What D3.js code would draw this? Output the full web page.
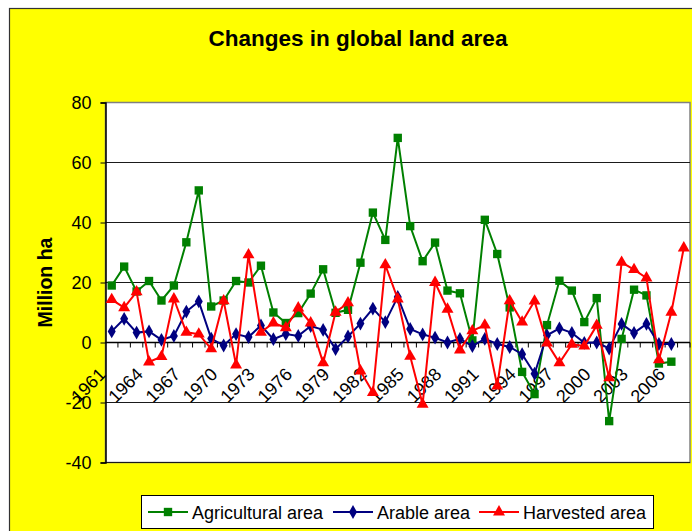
<!DOCTYPE html>
<html>
<head>
<meta charset="utf-8">
<script src="https://cdn.jsdelivr.net/npm/d3@7"></script>
<style>
  html, body { margin: 0; padding: 0; background: #fff; }
  svg { display: block; }
  text { font-family: "Liberation Sans", Arial, sans-serif; }
</style>
</head>
<body>
<svg id="chart" width="692" height="531"></svg>
<script>
// ---- Data ----
const years = d3.range(1961, 2008);           // 1961 .. 2007
const labelYears = years.filter((d, i) => i % 3 === 0);
const yTicks = [-40, -20, 0, 20, 40, 60, 80];

const agricultural = [19, 25.3, 17, 20.5, 14, 19, 33.4, 50.7, 12, 14, 20.5, 20, 25.6, 10, 6.5, 9.8,
  16.3, 24.4, 9.9, 10.9, 26.6, 43.3, 34.2, 68.2, 38.8, 27.1, 33.3, 17.3, 16.4, 0.7, 40.9, 29.5,
  11.7, -9.8, -17.2, 5.8, 20.6, 17.3, 6.8, 14.8, -26.2, 1.2, 17.6, 15.7, -7, -6.4, null];
const arable = [3.7, 7.9, 3.3, 3.7, 0.9, 2.2, 10.3, 13.7, 1.3, -1.0, 2.8, 1.8, 5.7, 1.1, 2.8, 2.2,
  5.5, 4.2, -2.2, 2.0, 6.3, 11.3, 6.8, 15.2, 4.5, 2.7, 1.6, 0, 1.2, -1.2, 1.2, -0.5,
  -1.5, -3.9, -10.4, 2.4, 4.7, 3.2, -0.1, 0, -2.0, 6.2, 3.2, 6.2, -0.5, -0.5, null];
const harvested = [14.3, 11.6, 16.9, -6.5, -4.7, 14.5, 3.4, 2.8, -2.1, 13.9, -7.5, 29.2, 3.4, 6.5, 4.9, 11.5,
  6.5, -6.8, 10.1, 13.2, -9.5, -16.7, 25.9, 14.5, -4.6, -20.6, 20.0, 11.1, -2.5, 3.9, 5.8, -14.5,
  13.9, 6.8, 13.8, -0.2, -6.8, -0.6, -1.2, 5.7, -11.8, 26.7, 24.3, 21.5, -5.8, 10.1, 31.5];

const seriesNames = ["Agricultural area", "Arable area", "Harvested area"];
const seriesColors = ["#008000", "#000080", "#FF0000"];
const seriesMarkers = ["square", "diamond", "triangle"];
const seriesData = [agricultural, arable, harvested];

// ---- Layout ----
const svg = d3.select("#chart");
const plot = { left: 105.5, right: 690, top: 102.5, bottom: 462.5 };

// chart area (yellow)
svg.append("rect").attr("x", 9.5).attr("y", 8.5).attr("width", 720).attr("height", 560)
  .attr("fill", "#FFFF00").attr("stroke", "#333").attr("stroke-width", 1.2);

// title
svg.append("text").attr("x", 358).attr("y", 46).attr("text-anchor", "middle")
  .attr("font-size", 22.5).attr("font-weight", "bold").text("Changes in global land area");

const x = d3.scaleBand().domain(years).range([plot.left, plot.right]).paddingInner(0).paddingOuter(0);
const y = d3.scaleLinear().domain([-40, 80]).range([plot.bottom, plot.top]);
const cx = d => x(d) + x.bandwidth() / 2;

// plot area
svg.append("rect").attr("x", plot.left).attr("y", plot.top)
  .attr("width", plot.right - plot.left).attr("height", plot.bottom - plot.top)
  .attr("fill", "#fff").attr("stroke", "#808080").attr("stroke-width", 1.5);

// gridlines
svg.append("g").selectAll("line").data(yTicks.filter(v => v !== 80)).join("line")
  .attr("x1", plot.left).attr("x2", plot.right)
  .attr("y1", d => y(d)).attr("y2", d => y(d))
  .attr("stroke", "#1a1a1a").attr("stroke-width", 1);

// y axis
const yAxis = svg.append("g").attr("transform", `translate(${plot.left},0)`)
  .call(d3.axisLeft(y).tickValues(yTicks).tickSize(5).tickPadding(9).tickFormat(d => String(d)));
yAxis.select(".domain").attr("stroke", "#000").attr("stroke-width", 1.5);
yAxis.selectAll(".tick line").attr("stroke", "#000");
yAxis.selectAll("text").attr("font-size", 18).attr("font-family", "Liberation Sans, Arial, sans-serif")
  .attr("fill", "#000");

// y axis title
svg.append("text").attr("transform", `translate(52,${(plot.top + plot.bottom) / 2}) rotate(-90)`)
  .attr("text-anchor", "middle").attr("font-size", 19.5).attr("font-weight", "bold").text("Million ha");

// x axis at zero
const xAxisG = svg.append("g").attr("transform", `translate(0,${y(0)})`);
xAxisG.append("line").attr("x1", plot.left).attr("x2", plot.right).attr("y1", 0).attr("y2", 0)
  .attr("stroke", "#000").attr("stroke-width", 1.3);
xAxisG.selectAll("line.tk").data(years.slice(1).concat(["end"])).join("line").attr("class", "tk")
  .attr("x1", d => d === "end" ? plot.right : x(d)).attr("x2", d => d === "end" ? plot.right : x(d))
  .attr("y1", 0).attr("y2", 5).attr("stroke", "#000").attr("stroke-width", 1);
const xAxis = xAxisG.append("g")
  .call(d3.axisBottom(x).tickValues(labelYears).tickSize(0).tickPadding(0));
xAxis.select(".domain").remove();
xAxis.selectAll("text")
  .attr("font-size", 18).attr("font-family", "Liberation Sans, Arial, sans-serif").attr("fill", "#000")
  .attr("y", 0).attr("dy", 0).attr("text-anchor", "end")
  .attr("transform", "translate(-5,33) rotate(-45)");

// series
const sym = {
  square: d3.symbol().type(d3.symbolSquare).size(70),
  diamond: d3.symbol().type(d3.symbolDiamond).size(55),
  triangle: d3.symbol().type(d3.symbolTriangle).size(62)
};
seriesData.forEach((vals, si) => {
  const pts = years.map((yr, i) => ({ yr, v: vals[i] })).filter(p => p.v !== null && p.v !== undefined);
  const line = d3.line().x(p => cx(p.yr)).y(p => y(p.v));
  svg.append("path").datum(pts).attr("d", line).attr("fill", "none")
    .attr("stroke", seriesColors[si]).attr("stroke-width", 2);
  svg.append("g").selectAll("path").data(pts).join("path")
    .attr("d", sym[seriesMarkers[si]])
    .attr("transform", p => `translate(${cx(p.yr)},${y(p.v)})`)
    .attr("fill", seriesColors[si]);
});

// legend
const lg = svg.append("g");
lg.append("rect").attr("x", 141.5).attr("y", 495.5).attr("width", 512).attr("height", 33)
  .attr("fill", "#fff").attr("stroke", "#000").attr("stroke-width", 1);
const legendX = [148, 333, 479];
const legendTextX = [192, 377, 523];
seriesNames.forEach((name, si) => {
  const ly = 512;
  lg.append("line").attr("x1", legendX[si]).attr("x2", legendX[si] + 40).attr("y1", ly).attr("y2", ly)
    .attr("stroke", seriesColors[si]).attr("stroke-width", 2);
  lg.append("path").attr("d", sym[seriesMarkers[si]])
    .attr("transform", `translate(${legendX[si] + 20},${ly})`).attr("fill", seriesColors[si]);
  lg.append("text").attr("x", legendTextX[si]).attr("y", ly + 6.5).attr("font-size", 18).text(name);
});
</script>
</body>
</html>
